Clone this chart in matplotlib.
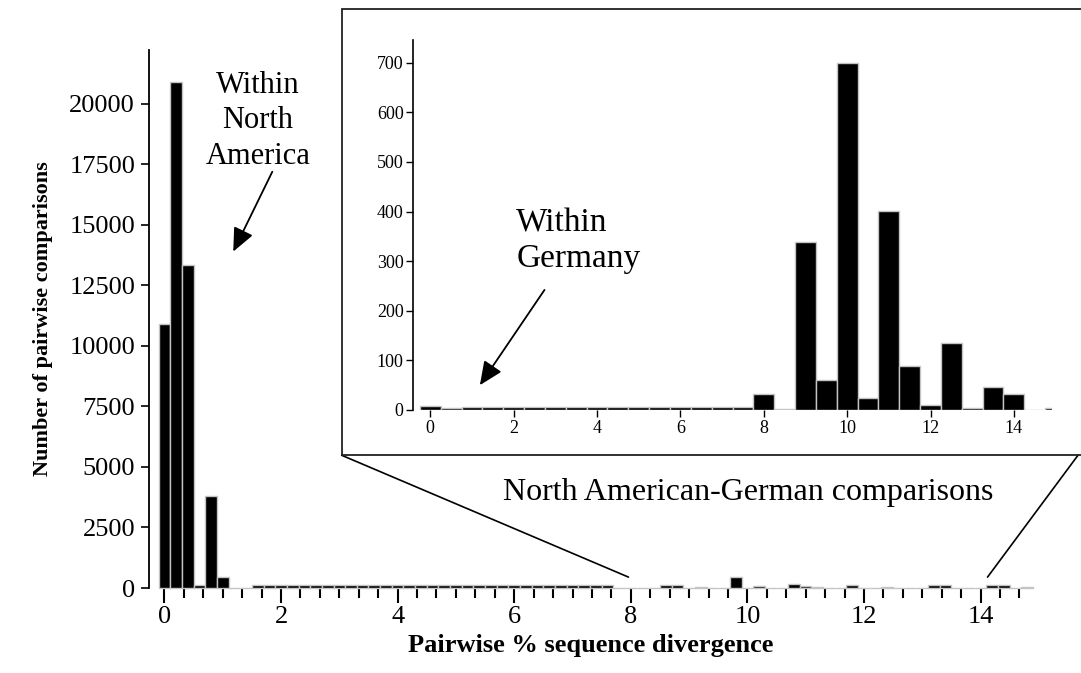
import numpy as np
import matplotlib
matplotlib.use('Agg')
import matplotlib.pyplot as plt
from matplotlib.patches import Rectangle, ConnectionPatch


# main histogram, 0.2 % bins (bin centres)
main_centres = np.round(np.arange(0, 15.0, 0.2), 1)
main_counts = [
    10900, 20900, 13350, 120, 3800, 450, 0, 0,                   # 0.0 - 1.4
    120, 120, 120, 120, 120, 120, 120, 120, 120, 120,            # 1.6 - 3.4
    120, 120, 120, 120, 120, 120, 120, 120, 120, 120,            # 3.6 - 5.4
    120, 120, 120, 120, 120, 120, 120, 120, 120, 120, 120,       # 5.6 - 7.6
    0, 0, 0, 0, 120, 140, 0, 25, 0, 20,                          # 7.8 - 9.6
    450, 20, 90, 20, 0, 160, 90, 30, 0, 0,                       # 9.8 - 11.6
    120, 0, 0, 50, 0, 0, 0, 120, 120, 20,                        # 11.8 - 13.6
    0, 0, 120, 120, 0, 60,                                       # 13.8 - 14.8
]

# inset histogram, 0.5 % bins (bin centres)
inset_centres = np.arange(0, 15.5, 0.5)
inset_counts = [
    9, 5, 7, 7, 7, 7, 7, 7, 7, 7, 7, 7, 7, 7, 7, 7,    # 0.0 - 7.5
    32, 2, 338, 60, 700, 25, 402, 88, 10, 135,         # 8.0 - 12.5
    4, 46, 32, 0, 5,                                   # 13.0 - 15.0
]

main_yticks = np.arange(0, 20001, 2500)
inset_yticks = np.arange(0, 701, 100)

plt.rcParams['font.family'] = ['Liberation Serif', 'DejaVu Serif']

BAR_EDGE = '#c4c4c4'

fig = plt.figure(figsize=(10.81, 6.73), dpi=100)

# ---- main axes ----
ax = fig.add_axes([0.1378, 0.1263, 0.8178, 0.7994])
ax.bar(main_centres, main_counts, width=0.2, color='black',
       edgecolor=BAR_EDGE, linewidth=1.0, clip_on=False, zorder=3)
ax.set_xlim(-0.266, 14.9)
ax.set_ylim(0, 22230)
for s in ['top', 'right', 'bottom']:
    ax.spines[s].set_visible(False)
ax.spines['left'].set_linewidth(1.3)

ax.set_yticks(main_yticks)
ax.set_xticks(np.arange(0, 15, 2))
ax.set_xticks(np.arange(0, 14.8, 1 / 3), minor=True)
ax.tick_params(axis='y', direction='out', length=6, width=1.2, labelsize=19, pad=4)
ax.tick_params(axis='x', which='major', direction='out', length=11, width=1.5,
               labelsize=19, pad=2)
ax.tick_params(axis='x', which='minor', direction='out', length=7, width=1.5)

ax.set_xlabel('Pairwise % sequence divergence', fontsize=19, fontweight='bold',
              labelpad=4)
ax.set_ylabel('Number of pairwise comparisons', fontsize=16, fontweight='bold',
              labelpad=12)

ax.text(1.6, 19300, 'Within\nNorth\nAmerica', fontsize=22, ha='center',
        va='center', linespacing=1.3)
ax.annotate('', xy=(1.18, 13900), xytext=(1.85, 17200),
            arrowprops=dict(arrowstyle='-|>,head_length=0.9,head_width=0.4',
                            color='black', lw=1.3, mutation_scale=16,
                            shrinkA=0, shrinkB=0))

# ---- inset box and connectors ----
box = Rectangle((0.3161, 0.3235), 0.6867, 0.6627, transform=fig.transFigure,
                fill=False, edgecolor='#222222', linewidth=1.3, clip_on=False)
fig.patches.append(box)

for fx, dx in [(0.3161, 7.96), (0.9972, 14.12)]:
    con = ConnectionPatch(xyA=(fx, 0.3235), coordsA='figure fraction',
                          xyB=(dx, 450), coordsB='data', axesB=ax,
                          color='black', linewidth=1.2)
    fig.add_artist(con)

fig.text(0.692, 0.2675, 'North American-German comparisons', fontsize=23,
         ha='center', va='center')

# ---- inset axes ----
ax2 = fig.add_axes([0.3823, 0.3908, 0.5911, 0.5498])
ax2.bar(inset_centres, inset_counts, width=0.5, color='black',
        edgecolor=BAR_EDGE, linewidth=1.0, clip_on=True, zorder=3)
ax2.set_xlim(-0.408, 14.92)
ax2.set_ylim(0, 745.7)
for s in ['top', 'right', 'bottom']:
    ax2.spines[s].set_visible(False)
ax2.spines['left'].set_linewidth(1.2)
ax2.set_yticks(inset_yticks)
ax2.set_xticks(np.arange(0, 15, 2))
ax2.tick_params(axis='both', direction='out', length=5, width=1.0,
                labelsize=13, pad=2)

ax2.text(2.06, 340, 'Within\nGermany', fontsize=24, ha='left', va='center',
         linespacing=1.2)
ax2.annotate('', xy=(1.19, 50), xytext=(2.74, 242),
             arrowprops=dict(arrowstyle='-|>,head_length=0.9,head_width=0.4',
                             color='black', lw=1.3, mutation_scale=16,
                             shrinkA=0, shrinkB=0))

plt.savefig('out.png', dpi=100)
